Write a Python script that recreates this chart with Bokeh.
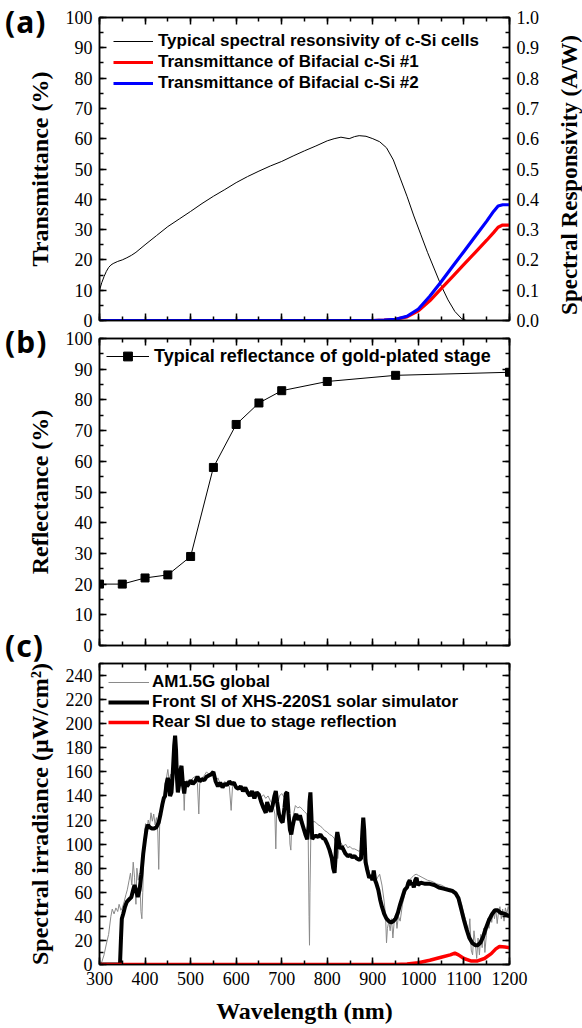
import math
from bokeh.plotting import figure
from bokeh.models import (LinearAxis, Range1d, SingleIntervalTicker, Legend, LegendItem,
                          NumeralTickFormatter, Div)
from bokeh.layouts import column
from bokeh.embed import file_html
from bokeh.resources import INLINE

# ---------------- data ----------------
# (a) spectral responsivity of c-Si cells (A/W)
resp_wl = [300, 305, 310, 315, 320, 325, 330, 340, 350, 360, 370, 380, 400, 425, 450, 475,
           500, 525, 550, 575, 600, 625, 650, 675, 700, 725, 750, 775, 800, 815, 830, 848,
           860, 870, 885, 900, 915, 930, 945, 960, 975, 990, 1005, 1020, 1035, 1050, 1065,
           1080, 1095, 1105, 1110]
resp_val = [0.10, 0.125, 0.145, 0.162, 0.175, 0.183, 0.188, 0.195, 0.200, 0.207, 0.215, 0.225,
            0.25, 0.28, 0.31, 0.335, 0.36, 0.386, 0.41, 0.432, 0.455, 0.475, 0.493, 0.51,
            0.525, 0.543, 0.56, 0.576, 0.593, 0.600, 0.605, 0.600, 0.607, 0.61, 0.608, 0.60,
            0.59, 0.57, 0.53, 0.47, 0.41, 0.345, 0.285, 0.225, 0.17, 0.115, 0.068, 0.03,
            0.006, 0.0, 0.0]

# (a) transmittance (%)
trans_wl = [300, 900, 925, 950, 975, 1000, 1025, 1050, 1075, 1100, 1125, 1150, 1165, 1175, 1185, 1200]
trans1 = [0, 0, 0.1, 0.4, 1.2, 3.2, 6.5, 10.5, 14.5, 18.5, 22.5, 26.5, 29.0, 30.8, 31.5, 31.5]
trans2 = [0, 0, 0.1, 0.4, 1.4, 3.8, 8.0, 12.8, 17.8, 22.8, 27.8, 32.8, 36.0, 37.8, 38.2, 38.2]

# (b) reflectance of gold-plated stage (%)
refl_wl = [300, 350, 400, 450, 500, 550, 600, 650, 700, 800, 950, 1200]
refl_val = [20, 20, 22, 23, 29, 58, 72, 79, 83, 86, 88, 89]

# (c) AM1.5G global
am_wl = [300, 305, 310, 315, 320, 325, 328, 332, 336, 340, 343, 347, 350, 354, 358, 361, 365,
         368, 371, 374, 377, 380, 382, 385, 388, 391, 393, 395, 398, 401, 404, 407, 410, 413,
         416, 419, 422, 425, 428, 430, 432, 435, 438, 441, 444, 447, 450, 453, 456, 459, 462,
         465, 468, 471, 474, 477, 480, 484, 486, 488, 492, 496, 500, 505, 510, 515, 518, 520,
         525, 530, 535, 540, 545, 550, 555, 560, 565, 570, 575, 580, 585, 589, 592, 596, 600,
         610, 620, 630, 640, 650, 655, 660, 665, 670, 675, 680, 685, 687, 689, 695, 700, 705,
         710, 715, 718, 720, 722, 726, 730, 735, 740, 745, 750, 755, 758, 760, 761, 762, 764,
         767, 770, 775, 780, 785, 790, 795, 800, 805, 810, 815, 820, 823, 826, 830, 835, 840,
         845, 850, 855, 860, 865, 870, 875, 880, 885, 890, 895, 900, 905, 910, 915, 920, 925,
         928, 930, 932, 935, 938, 941, 944, 947, 950, 953, 956, 960, 965, 970, 975, 980, 985,
         990, 995, 1000, 1010, 1020, 1030, 1040, 1050, 1060, 1070, 1080, 1085, 1090, 1095,
         1100, 1105, 1110, 1113, 1116, 1119, 1122, 1125, 1128, 1131, 1134, 1137, 1140, 1143,
         1146, 1149, 1152, 1155, 1158, 1161, 1164, 1167, 1170, 1173, 1176, 1179, 1182, 1185,
         1188, 1191, 1194, 1197, 1200]
am_val = [0, 2, 8, 17, 25, 40, 46, 42, 47, 44, 50, 45, 47, 52, 58, 62, 70,
          76, 66, 85, 72, 50, 80, 70, 76, 44, 38, 60, 102, 117, 112, 120, 115, 126,
          119, 125, 116, 122, 110, 79, 115, 130, 134, 138, 150, 155, 162, 152, 158, 150, 156,
          160, 155, 152, 157, 150, 148, 152, 128, 150, 153, 150, 152, 155, 156, 150, 125, 150,
          155, 157, 160, 158, 156, 158, 152, 155, 150, 148, 152, 150, 148, 128, 148, 150, 148,
          146, 144, 142, 140, 142, 139, 141, 138, 140, 136, 133, 125, 96, 130, 140, 142, 139,
          137, 130, 100, 95, 115, 125, 132, 130, 131, 129, 127, 125, 110, 40, 16, 60, 110,
          117, 119, 118, 116, 115, 113, 111, 110, 108, 107, 105, 100, 88, 98, 101, 98, 100,
          97, 98, 96, 96, 95, 94, 96, 95, 90, 80, 72, 74, 68, 72, 75, 66, 52,
          40, 18, 30, 36, 28, 38, 22, 36, 42, 30, 40, 36, 50, 58, 64, 70, 72,
          74, 75, 74, 72, 70, 69, 67, 66, 64, 63, 61, 58, 55, 50,
          42, 35, 25, 38, 12, 8, 28, 18, 5, 22, 8, 25, 14, 30,
          10, 24, 38, 30, 42, 35, 45, 38, 46, 34, 44, 48, 38, 46,
          36, 47, 42, 48, 45]

# (c) front SI of XHS-220S1 solar simulator
front_wl = [300, 340, 345, 347, 349, 352, 356, 360, 365, 370, 374, 377, 380, 384, 388, 392, 396,
            400, 403, 406, 410, 415, 420, 425, 430, 434, 438, 441, 444, 447, 450, 452, 455, 458,
            461, 464, 466, 468, 470, 472, 475, 478, 480, 483, 486, 489, 492, 496, 500, 505, 510,
            515, 520, 525, 530, 535, 540, 545, 550, 555, 560, 565, 570, 575, 580, 585, 590, 595,
            600, 605, 610, 615, 620, 625, 630, 635, 640, 645, 650, 655, 660, 665, 668, 672, 676,
            680, 684, 687, 690, 694, 698, 702, 706, 709, 712, 715, 718, 721, 724, 728, 732, 736,
            740, 744, 748, 752, 756, 759, 761, 763, 765, 767, 770, 775, 780, 785, 790, 795, 800,
            805, 810, 813, 816, 818, 820, 822, 825, 828, 832, 836, 840, 845, 850, 855, 860, 865,
            870, 874, 877, 879, 881, 884, 888, 892, 896, 899, 902, 905, 908, 912, 916, 920, 925,
            930, 935, 940, 945, 950, 955, 960, 965, 970, 975, 978, 981, 984, 987, 990, 993, 996,
            999, 1005, 1015, 1025, 1035, 1045, 1055, 1065, 1075, 1082, 1088, 1094, 1100, 1106,
            1112, 1118, 1125, 1130, 1136, 1142, 1148, 1155, 1162, 1168, 1174, 1180, 1190, 1200]
front_val = [0, 0, 0, 20, 38, 42, 48, 52, 54, 56, 62, 66, 62, 56, 62, 75, 92,
             104, 112, 116, 114, 113, 113, 114, 118, 125, 133, 138, 140, 150, 155, 152, 140, 143,
             160, 182, 190, 178, 155, 143, 150, 162, 165, 150, 142, 152, 148, 150, 153, 150, 152,
             156, 152, 154, 153, 156, 157, 158, 160, 152, 148, 151, 147, 150, 149, 152, 150, 151,
             147, 146, 148, 144, 147, 143, 140, 144, 138, 143, 141, 135, 130, 126, 135, 130, 127,
             132, 140, 144, 135, 125, 120, 118, 130, 142, 143, 125, 112, 108, 115, 122, 125, 120,
             124, 118, 113, 108, 104, 115, 135, 143, 125, 104, 106, 107, 106, 108, 105, 104, 100,
             95, 88, 80, 76, 88, 104, 110, 104, 96, 98, 95, 92, 90, 91, 89, 90, 88,
             87, 88, 110, 122, 112, 85, 78, 72, 74, 70, 78, 70, 67, 62, 54, 48, 42,
             38, 36, 35, 36, 38, 43, 50, 56, 62, 64, 68, 70, 66, 68, 64, 70, 72,
             66, 68, 67, 67, 66, 64, 63, 62, 61, 59, 55, 46, 37, 29,
             22, 18, 16, 16, 18, 23, 30, 37, 42, 45, 45, 43, 42, 40]

# (c) rear SI due to stage reflection
rear_wl = [300, 950, 975, 1000, 1025, 1050, 1070, 1080, 1088, 1100, 1115, 1130, 1145, 1160, 1170, 1178, 1190, 1200]
rear_val = [0, 0, 0.5, 1.5, 3.5, 6, 8, 9.5, 8, 5, 3, 3, 5, 9, 13, 15, 14.5, 14]

panel_tags = ["(a)", "(b)", "(c)"]
right_title = "Spectral Responsivity (A/W)"

# ---------------- styling helpers ----------------
SERIF = "Liberation Serif"
SANS = "Liberation Sans"


def style_axis(ax, labels=True):
    ax.axis_line_width = 1.5
    ax.axis_line_color = "black"
    ax.major_tick_in = 7
    ax.major_tick_out = 0
    ax.minor_tick_in = 4
    ax.minor_tick_out = 0
    ax.major_tick_line_width = 1.5
    ax.minor_tick_line_width = 1.5
    ax.major_tick_line_color = "black"
    ax.minor_tick_line_color = "black"
    if labels:
        ax.major_label_text_font = SERIF
        ax.major_label_text_font_size = "18px"
        ax.major_label_text_color = "black"
        ax.major_label_standoff = 7
    else:
        ax.major_label_text_font_size = "0px"
        ax.major_label_text_color = None
        ax.major_label_standoff = 0
    ax.axis_label_text_font = SERIF
    ax.axis_label_text_font_style = "bold"
    ax.axis_label_text_font_size = "24px"
    ax.axis_label_text_color = "black"
    ax.axis_label_standoff = 10


def make_fig(y0, y1, fh, bt, bb, yint, xlabels=False, ylabel=None, xlabel=None):
    p = figure(x_range=Range1d(300, 1200), y_range=Range1d(y0, y1),
               frame_width=410, frame_height=fh,
               min_border_left=99, min_border_right=73, min_border_top=bt, min_border_bottom=bb,
               output_backend="svg", toolbar_location=None,
               x_axis_location=None, y_axis_location=None)
    p.xgrid.grid_line_color = None
    p.ygrid.grid_line_color = None
    p.outline_line_color = "black"
    p.outline_line_width = 1.5
    p.background_fill_color = "white"
    p.border_fill_color = "white"

    xb = LinearAxis(ticker=SingleIntervalTicker(interval=100, num_minor_ticks=2))
    style_axis(xb, labels=xlabels)
    if xlabel:
        xb.axis_label = xlabel
    p.add_layout(xb, "below")
    xt = LinearAxis(ticker=SingleIntervalTicker(interval=100, num_minor_ticks=2))
    style_axis(xt, labels=False)
    p.add_layout(xt, "above")

    yl = LinearAxis(ticker=SingleIntervalTicker(interval=yint, num_minor_ticks=2))
    style_axis(yl, labels=True)
    if ylabel:
        yl.axis_label = ylabel
    p.add_layout(yl, "left")
    return p


def style_legend(lg, size, margin, standoff, glyph_w, lh, spacing):
    lg.location = "top_left"
    lg.margin = margin
    lg.padding = 0
    lg.border_line_color = None
    lg.background_fill_alpha = 0
    lg.label_text_font = SANS
    lg.label_text_font_style = "bold"
    lg.label_text_font_size = size
    lg.label_text_color = "black"
    lg.label_standoff = standoff
    lg.glyph_width = glyph_w
    lg.glyph_height = lh
    lg.label_height = lh
    lg.spacing = spacing


# ---------------- panel (a) ----------------
pa = make_fig(0, 100, 303, 17, 10, 10, ylabel="Transmittance (%)")
pa.extra_y_ranges = {"resp": Range1d(0, 1.0)}
yr = LinearAxis(y_range_name="resp", ticker=SingleIntervalTicker(interval=0.1, num_minor_ticks=2),
                formatter=NumeralTickFormatter(format="0.0"))
style_axis(yr, labels=True)
pa.add_layout(yr, "right")

ra = pa.line(resp_wl, resp_val, y_range_name="resp", line_color="black", line_width=1)
r1 = pa.line(trans_wl, trans1, line_color="#ff0000", line_width=3.2)
r2 = pa.line(trans_wl, trans2, line_color="#0000ff", line_width=3.2)

lga = Legend(items=[
    LegendItem(label="Typical spectral resonsivity of c-Si cells", renderers=[ra]),
    LegendItem(label="Transmittance of Bifacial c-Si #1", renderers=[r1]),
    LegendItem(label="Transmittance of Bifacial c-Si #2", renderers=[r2]),
])
style_legend(lga, "17px", 14, 5, 40, 20, 1)
pa.add_layout(lga)

# ---------------- panel (b) ----------------
pb = make_fig(0, 100, 307, 8, 17, 10, ylabel="Reflectance (%)")
yrb = LinearAxis(ticker=SingleIntervalTicker(interval=10, num_minor_ticks=2))
style_axis(yrb, labels=False)
pb.add_layout(yrb, "right")
lb = pb.line(refl_wl, refl_val, line_color="black", line_width=1)
sb = pb.scatter(refl_wl, refl_val, marker="square", size=8, fill_color="black", line_color="black")
lgb = Legend(items=[LegendItem(label="Typical reflectance of gold-plated stage", renderers=[lb, sb])])
style_legend(lgb, "18px", 7, 5, 43, 22, 0)
pb.add_layout(lgb)

# ---------------- panel (c) ----------------
pc = make_fig(0, 250, 301, 1, 64, 20, xlabels=True,
              ylabel="Spectral irradiance (\u03bcW/cm\u00b2)", xlabel="Wavelength (nm)")
yrc = LinearAxis(ticker=SingleIntervalTicker(interval=20, num_minor_ticks=2))
style_axis(yrc, labels=False)
pc.add_layout(yrc, "right")
ga = pc.line(am_wl, am_val, line_color="#8a8a8a", line_width=1)
gf = pc.line(front_wl, front_val, line_color="black", line_width=4)
gr = pc.line(rear_wl, rear_val, line_color="#ff0000", line_width=3.5)
lgc = Legend(items=[
    LegendItem(label="AM1.5G global", renderers=[ga]),
    LegendItem(label="Front SI of XHS-220S1 solar simulator", renderers=[gf]),
    LegendItem(label="Rear SI due to stage reflection", renderers=[gr]),
])
style_legend(lgc, "17px", 9, 3, 41, 20, 0)
pc.add_layout(lgc)

# ---------------- panel tags and right-hand title (overlay) ----------------
tag_css = ("position:absolute;left:0px;font-family:'Noto Sans';font-weight:bold;"
           "font-size:30px;letter-spacing:1px;line-height:1;color:black;white-space:nowrap;")
tag_tops = [2, 322, 626]
html = '<div style="position:relative;width:582px;height:1028px;">'
for t, top in zip(panel_tags, tag_tops):
    html += f'<span style="{tag_css}top:{top}px;">{t}</span>'
html += ('<span style="position:absolute;left:564px;top:170px;'
         'transform:translate(-50%,-50%) rotate(-90deg);white-space:nowrap;'
         "font-family:'Liberation Serif';font-weight:bold;font-size:23px;line-height:1;"
         f'color:black;">{right_title}</span>')
html += '</div>'
overlay = Div(text=html, width=582, height=1028,
              styles={"position": "absolute", "left": "0px", "top": "0px",
                      "z-index": "10", "pointer-events": "none"})

layout = column(pa, pb, pc, overlay, spacing=0)
open("out.html", "w").write(file_html(layout, INLINE))
